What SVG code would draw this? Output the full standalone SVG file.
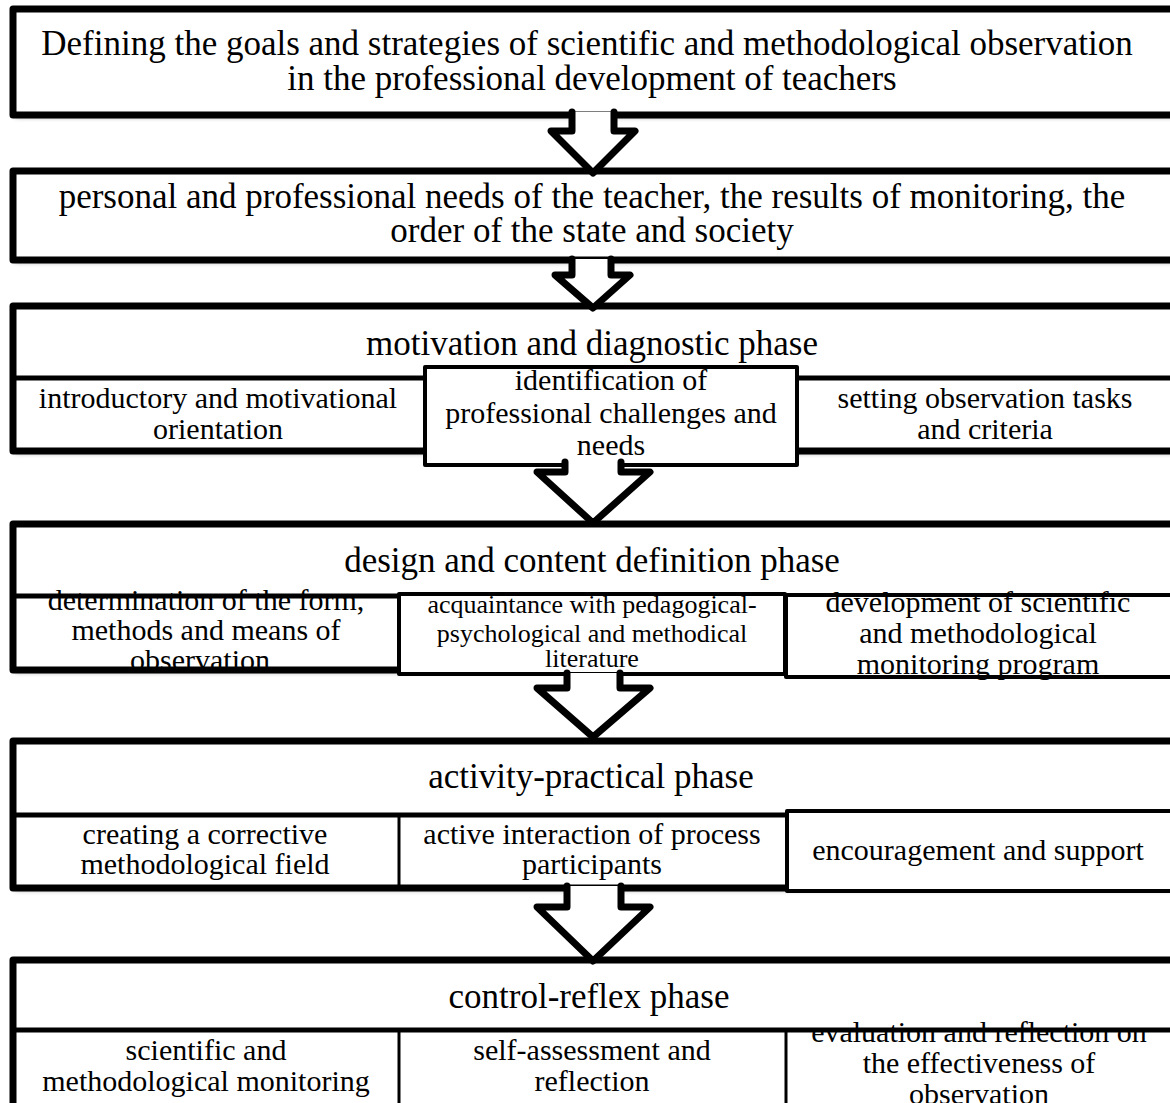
<svg xmlns="http://www.w3.org/2000/svg" width="1170" height="1103" viewBox="0 0 1170 1103" font-family="Liberation Serif, Times New Roman, serif">
<defs>
<style>
text{font-family:"Liberation Serif",serif}
.t{fill:#000;text-anchor:middle}
.m{font-size:35px}
.h{font-size:35px}
.s{font-size:30px}
.xs{font-size:26px}
.bx{fill:#fff;stroke:none}
.ol{fill:none;stroke:#000;stroke-width:7;stroke-linejoin:round}
.dv{fill:none;stroke:#000;stroke-width:5}
.sb{fill:none;stroke:#000;stroke-width:4;stroke-linejoin:round}
.th{fill:none;stroke:#000;stroke-width:3}
.ar{fill:#fff;stroke:#000;stroke-width:7;stroke-linejoin:round;stroke-linecap:round}
</style>
<filter id="sh" x="-5%" y="-10%" width="110%" height="130%">
<feDropShadow dx="2" dy="3" stdDeviation="2" flood-color="#000" flood-opacity="0.3"/>
</filter>
</defs>
<rect width="1170" height="1103" fill="#fff"/>

<g id="node1">
<rect class="bx" x="13" y="9" width="1165" height="106" filter="url(#sh)"/>
<text class="t m" x="587" y="55">Defining the goals and strategies of scientific and methodological observation</text>
<text class="t m" x="592" y="90">in the professional development of teachers</text>
<rect class="ol" x="13" y="9" width="1165" height="106"/>
</g>

<g id="node2">
<rect class="bx" x="13" y="171" width="1165" height="89" filter="url(#sh)"/>
<text class="t m" x="592" y="208">personal and professional needs of the teacher, the results of monitoring, the</text>
<text class="t m" x="592" y="242">order of the state and society</text>
<rect class="ol" x="13" y="171" width="1165" height="89"/>
</g>

<g id="node3">
<rect class="bx" x="13" y="306" width="1165" height="145" filter="url(#sh)"/>
<text class="t h" x="592" y="355">motivation and diagnostic phase</text>
<text class="t s" x="218" y="408">introductory and motivational</text>
<text class="t s" x="218" y="439">orientation</text>
<text class="t s" x="985" y="408">setting observation tasks</text>
<text class="t s" x="985" y="439">and criteria</text>
<rect class="ol" x="13" y="306" width="1165" height="145"/>
<line class="dv" x1="13" y1="378" x2="1175" y2="378"/>
</g>
<g id="node3b">
<rect class="bx" x="425" y="367" width="372" height="98"/>
<text class="t s" x="611" y="390">identification of</text>
<text class="t s" x="611" y="423">professional challenges and</text>
<text class="t s" x="611" y="455">needs</text>
<rect class="sb" x="425" y="367" width="372" height="98"/>
</g>

<g id="node4">
<rect class="bx" x="13" y="524" width="1165" height="146" filter="url(#sh)"/>
<text class="t h" x="592" y="572">design and content definition phase</text>
<text class="t s" x="206" y="610">determination of the form,</text>
<text class="t s" x="206" y="640">methods and means of</text>
<text class="t s" x="200" y="670">observation</text>
<rect class="ol" x="13" y="524" width="1165" height="146"/>
<line class="dv" x1="13" y1="596" x2="1175" y2="596"/>
</g>
<g id="node4b">
<rect class="bx" x="399" y="594" width="386" height="80"/>
<text class="t xs" x="592" y="613">acquaintance with pedagogical-</text>
<text class="t xs" x="592" y="642">psychological and methodical</text>
<text class="t xs" x="592" y="667">literature</text>
<rect class="sb" x="399" y="594" width="386" height="80"/>
</g>
<g id="node4c">
<rect class="bx" x="786" y="595" width="390" height="82"/>
<text class="t s" x="978" y="612">development of scientific</text>
<text class="t s" x="978" y="643">and methodological</text>
<text class="t s" x="978" y="674">monitoring program</text>
<rect class="sb" x="786" y="595" width="390" height="82"/>
</g>

<g id="node5">
<rect class="bx" x="13" y="741" width="1165" height="147" filter="url(#sh)"/>
<text class="t h" x="591" y="788">activity-practical phase</text>
<text class="t s" x="205" y="844">creating a corrective</text>
<text class="t s" x="205" y="874">methodological field</text>
<text class="t s" x="592" y="844">active interaction of process</text>
<text class="t s" x="592" y="874">participants</text>
<rect class="ol" x="13" y="741" width="1165" height="147"/>
<line class="dv" x1="13" y1="815" x2="1175" y2="815"/>
<line class="th" x1="399" y1="815" x2="399" y2="888"/>
</g>
<g id="node5c">
<rect class="bx" x="787" y="811" width="390" height="80"/>
<text class="t s" x="978" y="860">encouragement and support</text>
<rect class="sb" x="787" y="811" width="390" height="80"/>
</g>

<g id="node6">
<rect class="bx" x="13" y="960" width="1165" height="160" filter="url(#sh)"/>
<text class="t h" x="589" y="1008">control-reflex phase</text>
<text class="t s" x="206" y="1060">scientific and</text>
<text class="t s" x="206" y="1091">methodological monitoring</text>
<text class="t s" x="592" y="1060">self-assessment and</text>
<text class="t s" x="592" y="1091">reflection</text>
<text class="t s" x="979" y="1042">evaluation and reflection on</text>
<text class="t s" x="979" y="1073">the effectiveness of</text>
<text class="t s" x="979" y="1104">observation</text>
<rect class="ol" x="13" y="960" width="1165" height="160"/>
<line class="dv" x1="13" y1="1030" x2="1175" y2="1030"/>
<line class="th" x1="399" y1="1030" x2="399" y2="1110"/>
<line class="th" x1="786" y1="1030" x2="786" y2="1110"/>
</g>

<g id="connectors">
<path class="ar" d="M572,112 V131 H551 L593,173 L635,131 H614 V112"/>
<path class="ar" d="M572,259 V275 H555 L593,308 L630,275 H611 V259"/>
<path class="ar" d="M565,462 V472 H537 L593,523 L650,472 H621 V462"/>
<path class="ar" d="M567,673 V688 H537 L593,737 L650,688 H620 V673"/>
<path class="ar" d="M567,886 V907 H537 L593,961 L650,907 H621 V886"/>
</g>
</svg>
